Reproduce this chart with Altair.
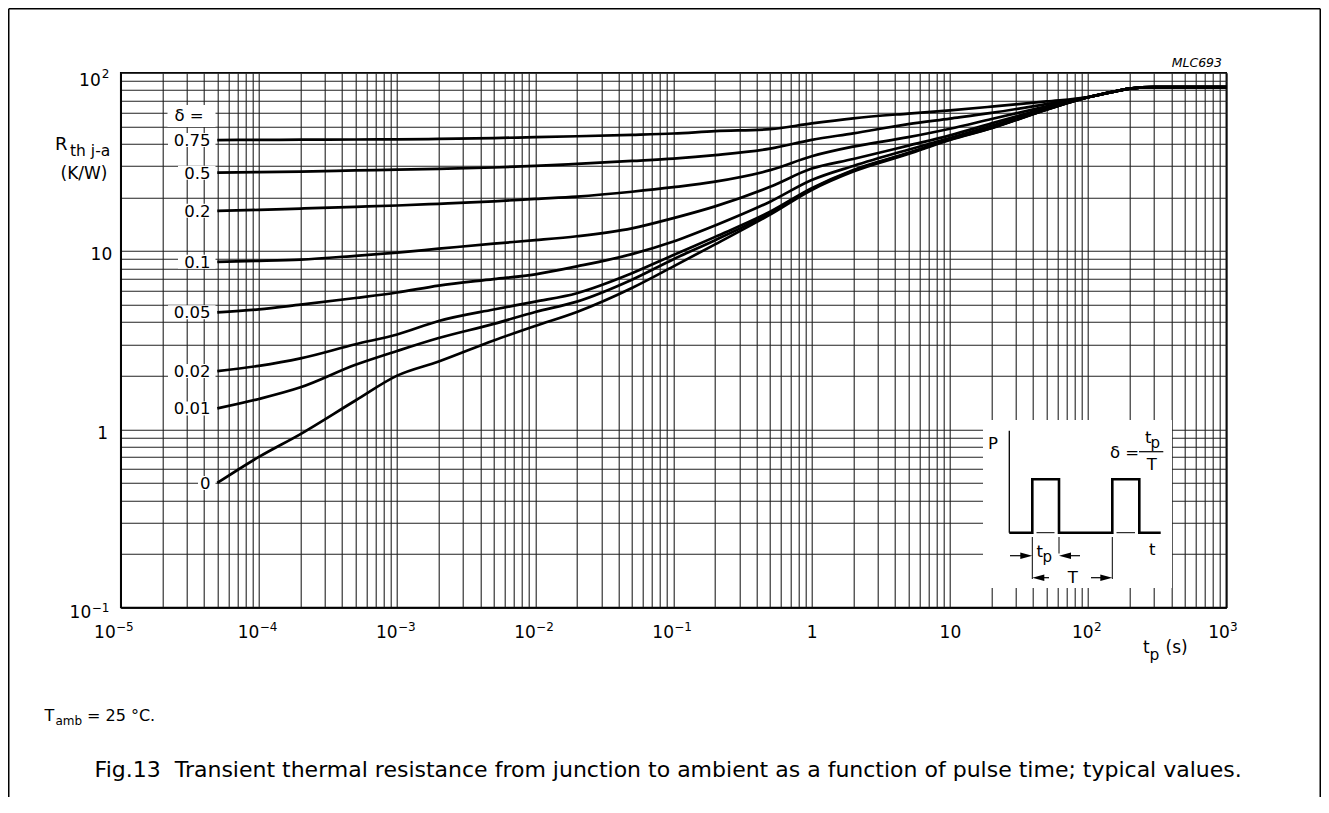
import altair as alt
import pandas as pd

FONT = "DejaVu Sans"

# ---------------- data ----------------
t_s = [5e-5, 1e-4, 2e-4, 5e-4, 1e-3, 2e-3, 5e-3, 1e-2, 2e-2, 5e-2,
       0.1, 0.2, 0.5, 1, 2, 5, 10, 20, 50, 100, 150, 200, 300, 1000]
tail = [78.0, 81.5, 83.0, 83.0]
r_075 = [41.9, 42.0, 42.1, 42.2, 42.3, 42.5, 43.0, 43.5, 44.0, 44.8, 45.6, 47.0,
         48.2, 52.0, 55.5, 59.0, 61.5, 64.5, 69.0, 73.0] + tail
r_05 = [27.5, 27.7, 27.9, 28.3, 28.6, 28.9, 29.4, 30.0, 30.8, 32.0, 33.0, 34.5,
        37.5, 42.0, 45.7, 51.5, 55.3, 59.5, 66.7, 73.0] + tail
r_02 = [16.8, 17.0, 17.3, 17.7, 18.0, 18.4, 19.0, 19.6, 20.2, 21.5, 22.8, 24.5,
        28.4, 34.0, 38.5, 43.5, 48.5, 55.0, 64.7, 72.8] + tail
r_01 = [8.7, 8.8, 8.95, 9.4, 9.8, 10.3, 11.0, 11.5, 12.1, 13.4, 15.3, 17.8,
        22.9, 29.0, 32.8, 39.0, 44.5, 52.0, 63.4, 72.8] + tail
r_005 = [4.53, 4.7, 5.0, 5.45, 5.85, 6.4, 6.95, 7.4, 8.2, 9.6, 11.3, 13.9,
         18.9, 25.0, 30.0, 37.0, 43.0, 50.4, 62.6, 72.8] + tail
r_002 = [2.12, 2.27, 2.5, 3.0, 3.4, 4.05, 4.7, 5.2, 5.8, 7.5, 9.5, 12.0,
         16.6, 22.5, 28.5, 35.5, 42.5, 49.2, 62.2, 72.8] + tail
r_001 = [1.31, 1.48, 1.72, 2.3, 2.75, 3.25, 3.9, 4.55, 5.2, 6.9, 9.0, 11.5,
         16.3, 22.3, 28.2, 35.3, 42.2, 49.0, 62.1, 72.8] + tail
r_0 = [0.5, 0.7, 0.94, 1.45, 2.0, 2.4, 3.15, 3.8, 4.55, 6.2, 8.2, 10.9,
       16.0, 22.0, 27.9, 35.0, 42.0, 48.8, 62.0, 72.8] + tail

deltas = ["0.75", "0.5", "0.2", "0.1", "0.05", "0.02", "0.01", "0"]
series = [r_075, r_05, r_02, r_01, r_005, r_002, r_001, r_0]

x_decades = [-5, -4, -3, -2, -1, 0, 1, 2, 3]
y_decades = [-1, 0, 1, 2]

caption = ("Fig.13\u00a0\u00a0Transient thermal resistance from junction to ambient "
           "as a function of pulse time; typical values.")

# ---------------- geometry ----------------
W, H = 1105.6, 534.9
OX, OY = 120.7, 72.7          # page position of the plot origin
PPD = H / 3.0                 # pixels per decade on y
PPX = W / 8.0                 # pixels per decade on x


def cx(px):
    return px - OX


def cy(py):
    return py - OY


xscale = alt.Scale(type="log", domain=[1e-5, 1e3], nice=False)
yscale = alt.Scale(type="log", domain=[0.1, 100], nice=False)

MINUS = "\u2212"


def tick_vals(k0, k1):
    v = []
    for k in range(k0, k1):
        for m in range(1, 10):
            v.append(float(f"{m}e{k}"))
    v.append(float(f"1e{k1}"))
    return v


def dv(k):
    return float(f"1e{k}")


def base_label(k):
    return "1" if k == 0 else "10"


def exp_text(k):
    return (MINUS + str(-k)) if k < 0 else str(k)


def label_expr(decs):
    parts = [f"datum.value == {dv(k)!r} ? '{base_label(k)}'" for k in decs]
    return " : ".join(parts) + " : ''"


# x-axis: "10" right-aligned next to its exponent, "1"/"10" centred
x_shift = {-5: -5.5, -4: 0.0, -3: 0.0, -2: 0.0, -1: 0.0, 2: 5.0, 3: 3.0}
x_align = {"condition": {"test": "datum.value == 1 || datum.value == 10", "value": "center"},
           "value": "right"}
x_off = {"condition": [{"test": f"datum.value == {dv(k)!r}", "value": s} for k, s in x_shift.items()],
         "value": 0}
xaxis = alt.Axis(values=tick_vals(-5, 3), labelExpr=label_expr(x_decades), title=None,
                 grid=True, ticks=False, labelOverlap=False, labelFlush=False,
                 labelBaseline="alphabetic", labelPadding=30, labelFontSize=17,
                 labelAlign=x_align, labelOffset=x_off)

# y-axis: padding / baseline offsets per decade label
y_pad = {-1: 30.0, 0: 13.0, 1: 9.0, 2: 20.5}
y_base = {-1: 9.6, 0: 9.2, 1: 8.2, 2: 12.6}
y_padc = {"condition": [{"test": f"datum.value == {dv(k)!r}", "value": s} for k, s in y_pad.items()],
          "value": 8}
y_offc = {"condition": [{"test": f"datum.value == {dv(k)!r}", "value": s} for k, s in y_base.items()],
          "value": 0}
yaxis = alt.Axis(values=tick_vals(-1, 2), labelExpr=label_expr(y_decades), title=None,
                 grid=True, ticks=False, labelOverlap=False, labelFontSize=17,
                 labelBaseline="alphabetic", labelPadding=y_padc, labelOffset=y_offc)

rows = []
for lab, arr in zip(deltas, series):
    for i, (t, r) in enumerate(zip(t_s, arr)):
        rows.append({"t": t, "R": r, "delta": lab, "i": i})
df_curves = pd.DataFrame(rows)

curves = alt.Chart(df_curves).mark_line(
    color="black", strokeWidth=2.7, interpolate="monotone"
).encode(
    x=alt.X("t:Q", scale=xscale, axis=xaxis),
    y=alt.Y("R:Q", scale=yscale, axis=yaxis),
    detail="delta:N",
    order="i:Q",
)

# exponents of the tick labels
df_xexp = pd.DataFrame([{"xa": dv(k) * 10 ** ((x_shift[k] + 0.8) / PPX), "py": cy(631.0),
                         "text": exp_text(k)} for k in x_decades if k not in (0, 1)])
xexp = alt.Chart(df_xexp).mark_text(align="left", baseline="alphabetic", font=FONT,
                                    fontSize=12, color="black").encode(
    x=alt.X("xa:Q", scale=xscale, axis=xaxis),
    y=alt.Y("py:Q", scale=None),
    text="text:N",
)
y_exp_rows = [(-1, 91.7, 4.1), (2, 101.7, 5.6)]
df_yexp = pd.DataFrame([{"px": cx(px), "ya": dv(k) / 10 ** (d / PPD), "text": exp_text(k)}
                        for k, px, d in y_exp_rows])
yexp = alt.Chart(df_yexp).mark_text(align="left", baseline="alphabetic", font=FONT,
                                    fontSize=12, color="black").encode(
    x=alt.X("px:Q", scale=None),
    y=alt.Y("ya:Q", scale=yscale, axis=yaxis),
    text="text:N",
)

# label boxes (white backgrounds that cut the grid)
box_right = cx(215.5)
brow = []
for lab, arr in zip(deltas, series):
    v = arr[0]
    w = 7.5 + 10 * len(lab)
    brow.append({"bx1": box_right - w, "bx2": box_right,
                 "ylo": v / 10 ** (7.0 / PPD), "yhi": v * 10 ** (7.0 / PPD)})
delta_head_val = 57.1
brow.append({"bx1": box_right - 48, "bx2": box_right,
             "ylo": delta_head_val / 10 ** (11.0 / PPD),
             "yhi": delta_head_val * 10 ** (11.0 / PPD)})
df_box = pd.DataFrame(brow)
boxes = alt.Chart(df_box).mark_rect(color="white").encode(
    x=alt.X("bx1:Q", scale=None), x2="bx2:Q",
    y=alt.Y("ylo:Q", scale=yscale, axis=yaxis), y2="yhi:Q",
)

df_lab = pd.DataFrame({"label": deltas, "y": [s[0] for s in series]})
labels = alt.Chart(df_lab).mark_text(
    align="right", baseline="middle", font=FONT, fontSize=16.5, dy=1, color="black"
).encode(
    x=alt.value(cx(210.5)),
    y=alt.Y("y:Q", scale=yscale, axis=yaxis),
    text="label:N",
)
df_head = pd.DataFrame({"label": ["\u03b4 ="], "y": [delta_head_val]})
head = alt.Chart(df_head).mark_text(
    align="center", baseline="middle", font=FONT, fontSize=16.5, color="black"
).encode(
    x=alt.value(cx(189)),
    y=alt.Y("y:Q", scale=yscale, axis=yaxis),
    text="label:N",
)

# inset panel
one = pd.DataFrame({"a": [0]})
inset_bg = alt.Chart(one).mark_rect(color="white").encode(
    x=alt.value(cx(983)), x2=alt.value(cx(1172)),
    y=alt.value(cy(420)), y2=alt.value(cy(588)),
)

seg_page = [
    # x1, y1, x2, y2, width
    (1009.3, 430.7, 1009.3, 532.7, 1.3),
    (1036.5, 532.7, 1054.5, 532.7, 1.0),
    (1116.5, 532.7, 1135.0, 532.7, 1.0),
    (1032.3, 537.0, 1032.3, 579.0, 1.0),
    (1059.0, 537.0, 1059.0, 553.5, 1.0),
    (1112.3, 537.0, 1112.3, 579.0, 1.0),
    (1010.0, 555.7, 1026.0, 555.7, 1.2),
    (1065.0, 555.7, 1080.0, 555.7, 1.2),
    (1038.0, 577.7, 1049.0, 577.7, 1.2),
    (1091.0, 577.7, 1106.0, 577.7, 1.2),
    (1139.0, 451.7, 1163.3, 451.7, 1.2),
    # outer frame
    (8.75, 8.75, 8.75, 797.0, 1.5),
    (8.75, 8.75, 1320.25, 8.75, 1.5),
    (1320.25, 8.75, 1320.25, 797.0, 1.5),
]
df_seg = pd.DataFrame([{"x1": cx(a), "y1": cy(b), "x2": cx(c), "y2": cy(d), "w": w}
                       for a, b, c, d, w in seg_page])
segs = alt.Chart(df_seg).mark_rule(color="black").encode(
    x=alt.X("x1:Q", scale=None), x2="x2:Q",
    y=alt.Y("y1:Q", scale=None), y2="y2:Q",
    strokeWidth=alt.StrokeWidth("w:Q", scale=None),
)

pulse_page = [(1009.3, 532.7), (1032.3, 532.7), (1032.3, 479.3), (1059.0, 479.3),
              (1059.0, 532.7), (1112.3, 532.7), (1112.3, 479.3), (1139.3, 479.3),
              (1139.3, 532.7), (1160.7, 532.7)]
df_pulse = pd.DataFrame([{"px": cx(a), "py": cy(b), "i": i} for i, (a, b) in enumerate(pulse_page)])
pulse = alt.Chart(df_pulse).mark_line(color="black", strokeWidth=2.6).encode(
    x=alt.X("px:Q", scale=None), y=alt.Y("py:Q", scale=None), order="i:Q",
)

RIGHT = "M0,0L-2.4,-0.65L-2.4,0.65Z"
LEFT = "M0,0L2.4,-0.65L2.4,0.65Z"
arrows_page = [(1032.3, 555.7, RIGHT), (1059.0, 555.7, LEFT),
               (1032.3, 577.7, LEFT), (1112.3, 577.7, RIGHT)]
df_arr = pd.DataFrame([{"px": cx(a), "py": cy(b), "shp": s} for a, b, s in arrows_page])
arrows = alt.Chart(df_arr).mark_point(filled=True, color="black", size=100, opacity=1,
                                      strokeWidth=0).encode(
    x=alt.X("px:Q", scale=None), y=alt.Y("py:Q", scale=None),
    shape=alt.Shape("shp:N", scale=None),
)

# text annotations: (text, page x, page baseline y, size, align, style)
texts = [
    ("MLC693", 1222.0, 66.5, 12.5, "right", "italic"),
    ("R", 55.0, 150.0, 18.0, "left", "normal"),
    ("th j-a", 70.0, 156.0, 15.5, "left", "normal"),
    ("(K/W)", 84.0, 178.5, 17.0, "center", "normal"),
    ("t", 1143.0, 653.3, 17.0, "left", "normal"),
    ("p", 1149.5, 659.5, 15.5, "left", "normal"),
    ("(s)", 1165.5, 653.3, 17.0, "left", "normal"),
    ("T", 44.5, 721.0, 16.0, "left", "normal"),
    ("amb", 55.5, 725.0, 12.0, "left", "normal"),
    ("= 25 \u00b0C.", 87.0, 721.0, 16.0, "left", "normal"),
    (caption, 94.6, 777.0, 22.0, "left", "normal"),
    # inset
    ("P", 988.0, 449.3, 16.5, "left", "normal"),
    ("t", 1149.0, 555.0, 16.5, "left", "normal"),
    ("t", 1036.5, 556.7, 16.5, "left", "normal"),
    ("p", 1042.5, 562.0, 15.0, "left", "normal"),
    ("T", 1072.8, 583.3, 16.5, "center", "normal"),
    ("\u03b4 =", 1110.0, 458.0, 16.5, "left", "normal"),
    ("t", 1145.0, 443.3, 16.5, "left", "normal"),
    ("p", 1150.5, 447.5, 15.0, "left", "normal"),
    ("T", 1151.7, 470.0, 16.5, "center", "normal"),
]
df_txt = pd.DataFrame([{"text": t, "px": cx(x), "py": cy(y), "fs": s, "align": a, "style": st}
                       for t, x, y, s, a, st in texts])

text_layers = []
for (al, st), g in df_txt.groupby(["align", "style"]):
    text_layers.append(
        alt.Chart(g.reset_index(drop=True)).mark_text(
            align=al, baseline="alphabetic", font=FONT, fontStyle=st, color="black"
        ).encode(
            x=alt.X("px:Q", scale=None), y=alt.Y("py:Q", scale=None),
            size=alt.Size("fs:Q", scale=None), text="text:N",
        )
    )

chart = alt.layer(
    curves, boxes, labels, head, xexp, yexp, inset_bg, segs, pulse, arrows, *text_layers
).properties(
    width=W, height=H,
    padding={"left": OX - 8, "top": OY - 8, "right": 1321 - (OX + W), "bottom": 789 - (OY - 8) - H},
    autosize=alt.AutoSizeParams(type="none"),
).configure_view(
    stroke="black", strokeWidth=1.5
).configure_axis(
    gridColor="#222222", gridWidth=1.1, gridOpacity=1,
    domainColor="black", domainWidth=1.5,
    labelColor="black", labelFont=FONT,
)

chart.save("out.html", embed_options={"renderer": "svg", "actions": False})
